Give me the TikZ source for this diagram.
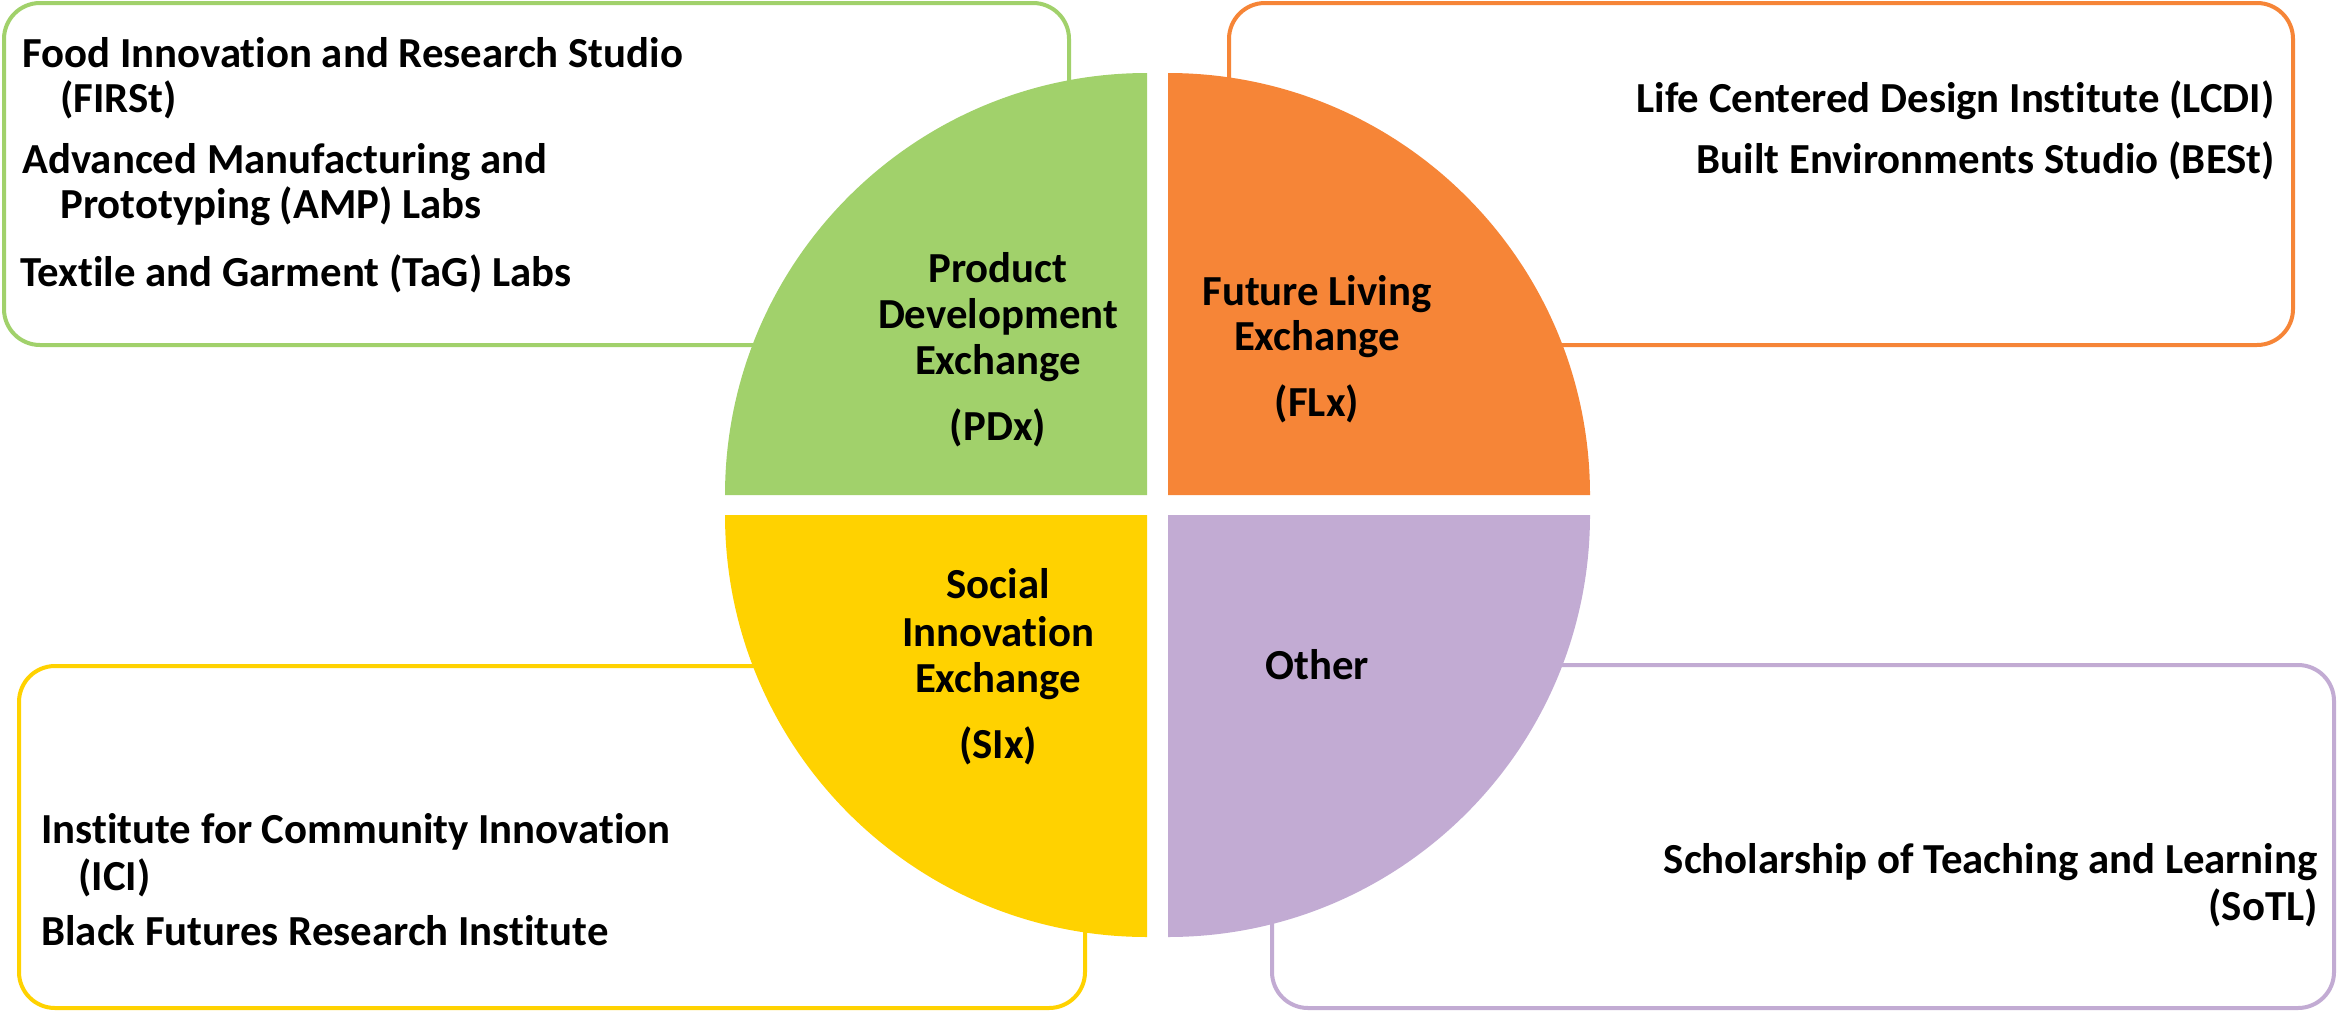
\documentclass[tikz,border=0pt]{standalone}
\usepackage{fontspec}
\setmainfont{Carlito}[Ligatures=NoCommon]
\definecolor{pdgreen}{HTML}{A1D16B}
\definecolor{florange}{HTML}{F68537}
\definecolor{siyellow}{HTML}{FFD200}
\definecolor{otpurple}{HTML}{C2ABD3}
\tikzset{
  box/.style={line width=2pt, rounded corners=18pt, fill=white},
  txt/.style={font=\fontsize{21.4}{25}\selectfont\bfseries, inner sep=0pt},
  lft/.style={txt, anchor=base west},
  rgt/.style={txt, anchor=base east},
  ctr/.style={txt, anchor=base},
}
\begin{document}
\begin{tikzpicture}[x=0.5pt,y=-0.5pt]
\useasboundingbox (0,0) rectangle (2338,1012);
% outer boxes
\draw[box, draw=pdgreen] (4,3) rectangle (1069,345);
\draw[box, draw=florange] (1229,3) rectangle (2293,345);
\draw[box, draw=siyellow] (19,666) rectangle (1085,1008);
\draw[box, draw=otpurple] (1272,665) rectangle (2334,1008);
% quadrants
\fill[pdgreen] (1147,495) -- (725,495) arc[start angle=180,end angle=270,radius=422] -- cycle;
\fill[florange] (1168,495) -- (1168,73) arc[start angle=270,end angle=360,radius=422] -- cycle;
\fill[siyellow] (1147,515) -- (725,515) arc[start angle=180,end angle=90,radius=422] -- cycle;
\fill[otpurple] (1168,515) -- (1590,515) arc[start angle=0,end angle=90,radius=422] -- cycle;
% green box text
\node[lft] (g1) at (22,67) {Food Innovation and Research Studio};
\node[lft] (g2) at (60,112) {(FIRSt)};
\node[lft] (g3) at (22,173) {Advanced Manufacturing and};
\node[lft] (g4) at (60,218) {Prototyping (AMP) Labs};
\node[lft] (g5) at (20,286) {Textile and Garment (TaG) Labs};
% orange box text
\node[rgt] (o1) at (2275,112) {Life Centered Design Institute (LCDI)};
\node[rgt] (o2) at (2275,173) {Built Environments Studio (BESt)};
% yellow box text
\node[lft] (y1) at (41,843) {Institute for Community Innovation};
\node[lft] (y2) at (78,890) {(ICI)};
\node[lft] (y3) at (41,945) {Black Futures Research Institute};
% purple box text
\node[rgt] (p1) at (2318,873) {Scholarship of Teaching and Learning};
\node[rgt] (p2) at (2318,920) {(SoTL)};
% quadrant labels
\node[ctr] (pd1) at (998,282) {Product};
\node[ctr] (pd2) at (998,328) {Development};
\node[ctr] (pd3) at (998,374) {Exchange};
\node[ctr] (pd4) at (998,440) {(PDx)};
\node[ctr] (fl1) at (1317,305) {Future Living};
\node[ctr] (fl2) at (1317,350) {Exchange};
\node[ctr] (fl3) at (1317,416) {(FLx)};
\node[ctr] (si1) at (998,598) {Social};
\node[ctr] (si2) at (998,646) {Innovation};
\node[ctr] (si3) at (998,692) {Exchange};
\node[ctr] (si4) at (998,758) {(SIx)};
\node[ctr] (ot1) at (1317,679) {Other};
\end{tikzpicture}
\end{document}
